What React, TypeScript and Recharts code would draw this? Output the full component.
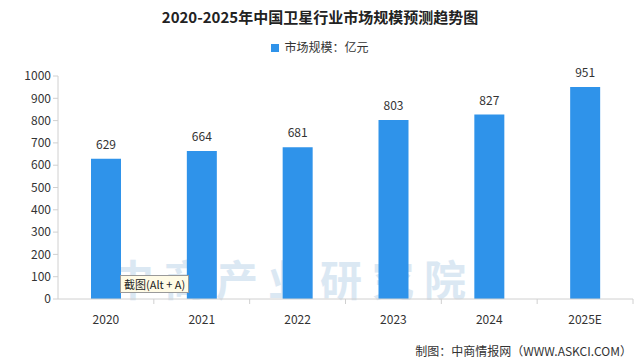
import { BarChart, Bar, XAxis, YAxis, LabelList } from "recharts";

const years = ["2020", "2021", "2022", "2023", "2024", "2025E"];
const marketSize = [629, 664, 681, 803, 827, 951];
const yTicks = [0, 100, 200, 300, 400, 500, 600, 700, 800, 900, 1000];

const data = years.map((year, i) => ({ year, value: marketSize[i] }));

const FONT = "'Noto Sans CJK SC', 'Noto Sans', sans-serif";
const BAR = "#2f93ea";
const AXIS = "#d0d0d0";

const CHART_W = 640;
const CHART_H = 362;
const LEFT = 58;
const RIGHT = 7;
const band = (CHART_W - LEFT - RIGHT) / years.length;

// x tick: label centred, tick mark on the band boundary to the right
function YearTick(props: any) {
  const { x, y, payload } = props;
  return (
    <g>
      <line x1={x + band / 2} y1={y - 8} x2={x + band / 2} y2={y - 3} stroke={AXIS} />
      <text x={x} y={y + 17} textAnchor="middle" fontSize={12} fill="#333" fontFamily={FONT}>
        {payload.value}
      </text>
    </g>
  );
}

export default function App() {
  return (
    <div
      style={{
        position: "absolute",
        left: 0,
        top: 0,
        width: CHART_W,
        height: CHART_H,
        background: "#fff",
        fontFamily: FONT,
        overflow: "hidden",
      }}
    >
      {/* watermark */}
      <div
        style={{
          position: "absolute",
          left: 112,
          top: 257,
          fontSize: 42,
          lineHeight: "42px",
          fontWeight: 700,
          color: "#dbe8f3",
          letterSpacing: 10,
          whiteSpace: "nowrap",
        }}
      >
        中商产业研究院
      </div>
      <div
        style={{
          position: "absolute",
          top: 6,
          width: "100%",
          textAlign: "center",
          fontSize: 15,
          fontWeight: 700,
          color: "#222",
        }}
      >
        2020-2025年中国卫星行业市场规模预测趋势图
      </div>
      <div
        style={{
          position: "absolute",
          top: 38,
          width: "100%",
          textAlign: "center",
          fontSize: 12,
          color: "#333",
        }}
      >
        <span
          style={{
            display: "inline-block",
            width: 8,
            height: 8,
            background: BAR,
            marginRight: 5,
            verticalAlign: "middle",
            position: "relative",
            top: -1,
          }}
        />
        市场规模：亿元
      </div>
      <div style={{ position: "absolute", left: 0, top: 0 }}>
        <BarChart
          width={CHART_W}
          height={CHART_H}
          data={data}
          margin={{ top: 76, right: RIGHT, bottom: 33, left: 0 }}
          barCategoryGap={0}
        >
          <XAxis
            dataKey="year"
            stroke={AXIS}
            tickLine={false}
            tick={<YearTick />}
            interval={0}
            height={30}
          />
          <YAxis
            width={LEFT}
            domain={[0, 1000]}
            ticks={yTicks}
            interval={0}
            stroke={AXIS}
            tickSize={5}
            tick={{ fontSize: 12, fill: "#333", fontFamily: FONT }}
          />
          <Bar dataKey="value" fill={BAR} barSize={30} isAnimationActive={false}>
            <LabelList
              dataKey="value"
              position="top"
              offset={10}
              fontSize={12}
              fill="#333"
              fontFamily={FONT}
            />
          </Bar>
        </BarChart>
      </div>
      <div
        style={{
          position: "absolute",
          left: 120,
          top: 275,
          padding: "0px 3px",
          fontSize: 11,
          lineHeight: "16px",
          color: "#222",
          background: "#fffbe6",
          border: "1px solid #9a9a9a",
          whiteSpace: "nowrap",
        }}
      >
        截图(Alt + A)
      </div>
      <div
        style={{
          position: "absolute",
          right: 8,
          top: 342,
          fontSize: 12,
          color: "#333",
        }}
      >
        制图：中商情报网（WWW.ASKCI.COM）
      </div>
    </div>
  );
}
